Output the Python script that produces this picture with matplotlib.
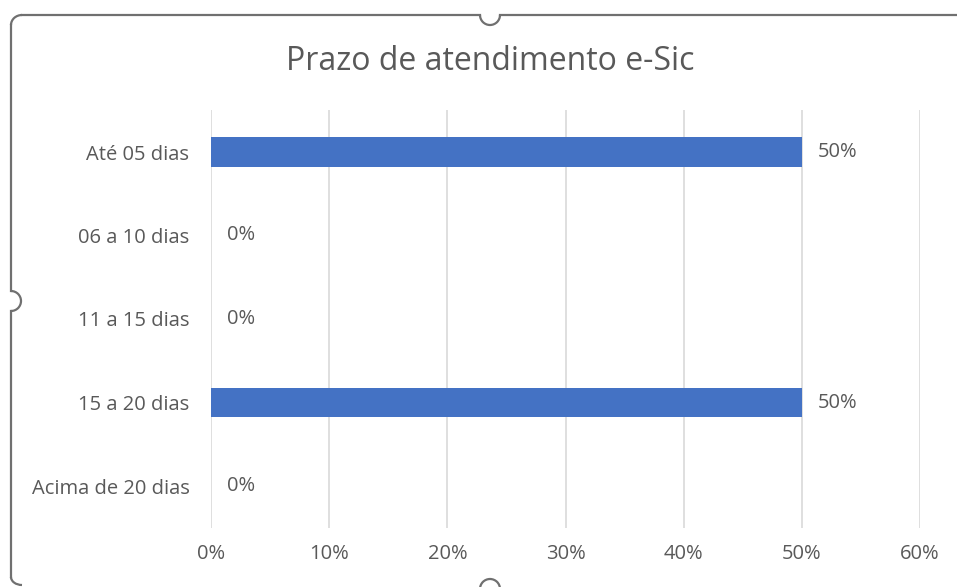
import matplotlib.pyplot as plt
from matplotlib.patches import Arc
from matplotlib.ticker import PercentFormatter

# data
categories = ["Até 05 dias", "06 a 10 dias", "11 a 15 dias", "15 a 20 dias", "Acima de 20 dias"]
values = [0.50, 0.0, 0.0, 0.50, 0.0]
title = "Prazo de atendimento e-Sic"

plt.rcParams['font.family'] = ['Open Sans', 'DejaVu Sans']
txt = "#595959"

W, H = 957, 587
fig = plt.figure(figsize=(W / 100, H / 100), dpi=100)

# plot area in pixel terms
left, right, top, bottom = 211, 920, 110.25, 527.75
ax = fig.add_axes([left / W, 1 - bottom / H, (right - left) / W, (bottom - top) / H])

bars = ax.barh(categories, values, height=0.35, color="#4472C4", zorder=3)
ax.set_xlim(0, 0.6)
ax.set_ylim(-0.5, len(categories) - 0.5)
ax.invert_yaxis()
ax.xaxis.set_major_formatter(PercentFormatter(1.0, decimals=0))
ax.set_xticks([i / 10 for i in range(7)])
ax.grid(axis="x", color="#D9D9D9", linewidth=1.2, zorder=0)
ax.tick_params(length=0, labelsize=14.5, colors=txt)
ax.tick_params(axis="y", pad=15.5)
ax.tick_params(axis="x", pad=12)
for s in ax.spines.values():
    s.set_visible(False)

ax.bar_label(bars, labels=[f"{v:.0%}" for v in values], padding=11.5,
             fontsize=14.5, color=txt)

fig.text(490 / W, 1 - 61 / H, title, ha="center", va="center", fontsize=23, color=txt)

# selection frame with handles (overlay in pixel coords)
ov = fig.add_axes([0, 0, 1, 1], zorder=10)
ov.set_xlim(0, W)
ov.set_ylim(H, 0)
ov.axis("off")
ov.patch.set_alpha(0)
fc = "#707070"
lw = 1.6
ov.plot([22, 480], [15, 15], color=fc, lw=lw)
ov.plot([500, W], [15, 15], color=fc, lw=lw)
ov.plot([11, 11], [25, 291], color=fc, lw=lw)
ov.plot([11, 11], [311, 577], color=fc, lw=lw)
ov.add_patch(Arc((490, 15), 20, 20, theta1=0, theta2=180, color=fc, lw=lw))
ov.add_patch(Arc((11, 301), 20, 20, theta1=-90, theta2=90, color=fc, lw=lw))
ov.add_patch(Arc((490, 589), 20, 20, theta1=180, theta2=360, color=fc, lw=lw))
ov.add_patch(Arc((22, 25), 22, 20, theta1=180, theta2=270, color=fc, lw=lw))
ov.add_patch(Arc((22, 577), 22, 16, theta1=90, theta2=180, color=fc, lw=lw))

fig.savefig("out.png", dpi=100)
